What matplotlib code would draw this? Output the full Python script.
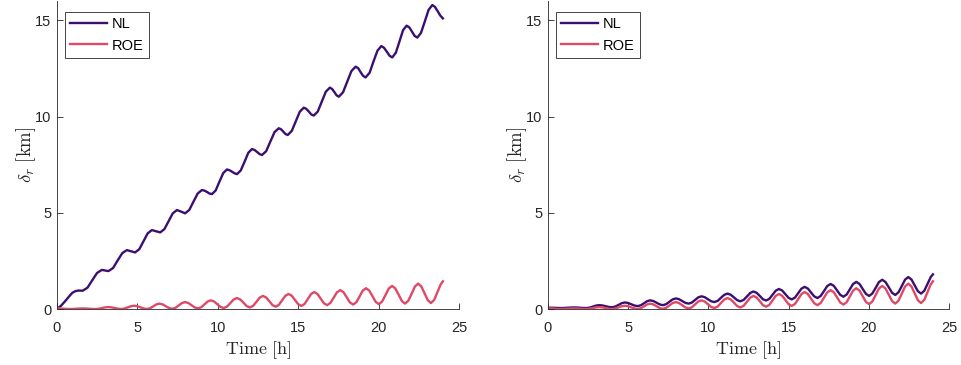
import matplotlib
matplotlib.use("Agg")
import matplotlib.pyplot as plt

plt.rcParams['font.family'] = ['Liberation Sans', 'DejaVu Sans']
plt.rcParams['mathtext.fontset'] = 'cm'

# ---------------- data ----------------
time_nl_left = [0.0, 0.25, 0.5, 0.75, 0.95, 1.15, 1.35, 1.6,
                1.9, 2.19, 2.49, 2.78, 3.0, 3.2,
                3.49, 3.77, 4.06, 4.34, 4.6, 4.86,
                5.12, 5.38, 5.64, 5.9, 6.16, 6.42,
                6.68, 6.94, 7.2, 7.46, 7.72, 7.97,
                8.23, 8.49, 8.75, 9.01, 9.17, 9.33, 9.48, 9.64,
                9.87, 10.1, 10.34, 10.57, 10.73, 10.89, 11.04, 11.2,
                11.43, 11.67, 11.9, 12.13, 12.29, 12.44, 12.6, 12.75,
                13.01, 13.27, 13.53, 13.79, 13.93, 14.07, 14.21, 14.35,
                14.6, 14.85, 15.1, 15.35, 15.5, 15.66, 15.81, 15.97,
                16.22, 16.47, 16.72, 16.97, 17.11, 17.25, 17.39, 17.53,
                17.79, 18.05, 18.31, 18.57, 18.73, 18.88, 19.04, 19.19,
                19.44, 19.68, 19.93, 20.17, 20.34, 20.51, 20.68, 20.85,
                21.07, 21.3, 21.52, 21.74, 21.91, 22.08, 22.24, 22.41,
                22.64, 22.88, 23.11, 23.34, 23.5, 23.67, 23.84, 24.0]
nl_left = [0.0, 0.17, 0.4, 0.65, 0.84, 0.93, 0.96, 0.95,
           1.11, 1.49, 1.87, 2.03, 2.0, 1.97,
           2.13, 2.52, 2.9, 3.06, 3.0, 2.94,
           3.11, 3.52, 3.93, 4.1, 4.04, 3.98,
           4.15, 4.56, 4.97, 5.14, 5.06, 4.97,
           5.15, 5.58, 6.0, 6.18, 6.15, 6.08, 6.0, 5.97,
           6.16, 6.61, 7.06, 7.25, 7.21, 7.13, 7.05, 7.01,
           7.2, 7.66, 8.12, 8.31, 8.26, 8.16, 8.05, 8.0,
           8.2, 8.7, 9.19, 9.39, 9.34, 9.22, 9.09, 9.04,
           9.25, 9.75, 10.25, 10.46, 10.4, 10.26, 10.11, 10.05,
           10.26, 10.78, 11.29, 11.5, 11.43, 11.27, 11.1, 11.03,
           11.26, 11.81, 12.36, 12.59, 12.51, 12.31, 12.11, 12.03,
           12.27, 12.85, 13.42, 13.66, 13.57, 13.37, 13.16, 13.07,
           13.31, 13.9, 14.48, 14.72, 14.63, 14.41, 14.19, 14.1,
           14.35, 14.95, 15.54, 15.79, 15.7, 15.48, 15.24, 15.1]

time_roe = [0.0, 0.2, 0.4, 0.6, 0.8, 1.0, 1.2, 1.4, 1.6, 1.8, 2.0, 2.2, 2.4,
            2.6, 2.8, 3.0, 3.2, 3.4, 3.6, 3.8, 4.0, 4.2, 4.4, 4.6, 4.8,
            5.0, 5.2, 5.4, 5.6, 5.79, 5.99, 6.18, 6.37, 6.57, 6.77, 6.97, 7.17,
            7.37, 7.57, 7.77, 7.97, 8.17, 8.37, 8.57, 8.77, 8.97, 9.17, 9.37, 9.57,
            9.77, 9.97, 10.17, 10.37, 10.58, 10.78, 10.99, 11.19, 11.39, 11.6, 11.8, 12.0,
            12.2, 12.41, 12.61, 12.81, 13.01, 13.21, 13.4, 13.6, 13.8, 14.0, 14.2, 14.4,
            14.6, 14.8, 15.0, 15.2, 15.4, 15.6, 15.8, 16.0, 16.2, 16.4, 16.6, 16.8,
            17.0, 17.21, 17.41, 17.62, 17.82, 18.02, 18.22, 18.42, 18.62, 18.82, 19.02, 19.22,
            19.42, 19.62, 19.82, 20.02, 20.22, 20.43, 20.63, 20.84, 21.04, 21.25, 21.45, 21.65,
            21.85, 22.06, 22.26, 22.46, 22.66, 22.86, 23.06, 23.26, 23.46, 23.66, 23.86, 24.0]
roe = [0.04, 0.03, 0.015, 0.005, 0.0, 0.004, 0.015, 0.026, 0.03, 0.026, 0.015, 0.004, 0.0,
       0.015, 0.05, 0.085, 0.1, 0.085, 0.05, 0.015, 0.0, 0.025, 0.085, 0.145, 0.17,
       0.145, 0.085, 0.025, 0.0, 0.04, 0.14, 0.24, 0.28, 0.24, 0.145, 0.05, 0.01,
       0.06, 0.185, 0.31, 0.36, 0.31, 0.195, 0.08, 0.03, 0.09, 0.24, 0.39, 0.45,
       0.39, 0.25, 0.11, 0.05, 0.126, 0.31, 0.494, 0.57, 0.498, 0.325, 0.152, 0.08,
       0.168, 0.38, 0.592, 0.68, 0.598, 0.4, 0.202, 0.12, 0.216, 0.45, 0.684, 0.78,
       0.689, 0.47, 0.251, 0.16, 0.265, 0.52, 0.775, 0.88, 0.781, 0.54, 0.299, 0.2,
       0.314, 0.59, 0.866, 0.98, 0.87, 0.605, 0.34, 0.23, 0.354, 0.655, 0.956, 1.08,
       0.959, 0.665, 0.371, 0.25, 0.389, 0.725, 1.061, 1.2, 1.066, 0.74, 0.414, 0.28,
       0.432, 0.8, 1.168, 1.32, 1.173, 0.815, 0.457, 0.31, 0.477, 0.874, 1.276, 1.44]
nl_right = [0.07, 0.065, 0.06, 0.055, 0.05, 0.054, 0.065, 0.076, 0.08, 0.076, 0.065, 0.054, 0.05,
            0.072, 0.125, 0.178, 0.2, 0.184, 0.145, 0.106, 0.09, 0.127, 0.215, 0.303, 0.34,
            0.312, 0.245, 0.178, 0.15, 0.194, 0.3, 0.406, 0.45, 0.414, 0.325, 0.237, 0.2,
            0.251, 0.375, 0.499, 0.55, 0.511, 0.415, 0.319, 0.28, 0.335, 0.47, 0.605, 0.66,
            0.616, 0.51, 0.404, 0.36, 0.424, 0.58, 0.736, 0.8, 0.742, 0.6, 0.458, 0.4,
            0.474, 0.655, 0.836, 0.91, 0.841, 0.675, 0.509, 0.44, 0.528, 0.74, 0.952, 1.04,
            0.961, 0.77, 0.579, 0.5, 0.595, 0.825, 1.055, 1.15, 1.065, 0.86, 0.655, 0.57,
            0.677, 0.935, 1.193, 1.3, 1.204, 0.97, 0.736, 0.64, 0.752, 1.025, 1.298, 1.41,
            1.303, 1.045, 0.787, 0.68, 0.803, 1.1, 1.397, 1.52, 1.405, 1.125, 0.845, 0.73,
            0.866, 1.195, 1.524, 1.66, 1.534, 1.23, 0.926, 0.8, 0.948, 1.3, 1.657, 1.8]

series_labels = ["NL", "ROE"]
x_ticks = [0, 5, 10, 15, 20, 25]
y_ticks = [0, 5, 10, 15]

# ---------------- style ----------------
c_nl = "#3b0f70"
c_roe = "#de4968"
axis_col = "#262626"

fig = plt.figure(figsize=(9.61, 3.65), dpi=100)
ax1 = fig.add_axes([0.0593, 0.1534, 0.4183, 0.8438])
ax2 = fig.add_axes([0.5702, 0.1534, 0.4173, 0.8438])

panels = [(ax1, time_nl_left, nl_left, time_roe, roe),
          (ax2, time_roe, nl_right, time_roe, roe)]

for ax, tn, vn, tr, vr in panels:
    ax.plot(tn, vn, color=c_nl, lw=1.7, label=series_labels[0])
    ax.plot(tr, vr, color=c_roe, lw=1.7, label=series_labels[1])
    ax.set_xlim(0, 25)
    ax.set_ylim(0, 16)
    ax.set_xticks(x_ticks)
    ax.set_yticks(y_ticks)
    for s in ("top", "right"):
        ax.spines[s].set_visible(False)
    for s in ("left", "bottom"):
        ax.spines[s].set_color(axis_col)
        ax.spines[s].set_linewidth(0.6)
    ax.tick_params(direction="in", length=4, width=0.6, colors=axis_col,
                   labelsize=10.5)
    ax.tick_params(axis="x", pad=8.5)
    ax.tick_params(axis="y", pad=4)
    ax.set_xlabel(r"$\mathrm{Time\ [h]}$", fontsize=13, color=axis_col, labelpad=3)
    ax.set_ylabel(r"$\delta_r\ \mathrm{[km]}$", fontsize=13.5, color=axis_col, labelpad=-2)
    leg = ax.legend(loc="upper left", bbox_to_anchor=(0.02, 0.964), fontsize=10.5,
                    frameon=True, fancybox=False, handlelength=2.5, handletextpad=0.35,
                    borderpad=0.35, labelspacing=0.5, borderaxespad=0.0)
    leg.get_frame().set_edgecolor("#262626")
    leg.get_frame().set_linewidth(0.6)
    leg.get_frame().set_alpha(1.0)
    for line in leg.get_lines():
        line.set_linewidth(1.7)

fig.savefig("out.png", dpi=100)
